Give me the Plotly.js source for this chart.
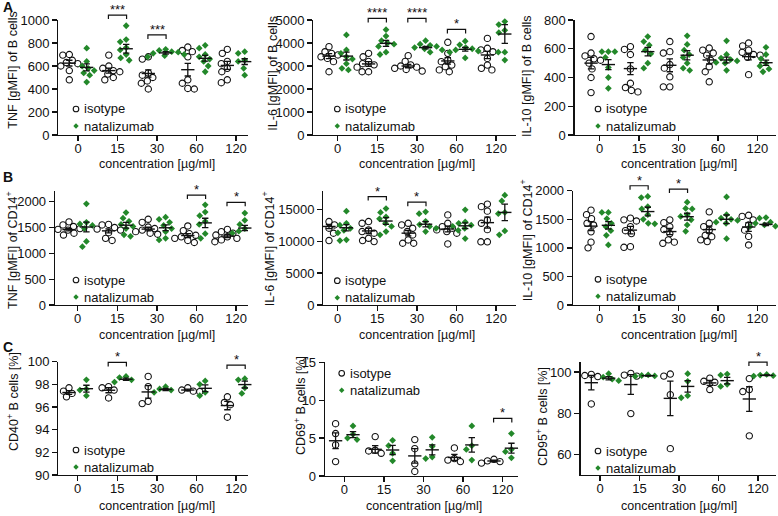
<!DOCTYPE html>
<html><head><meta charset="utf-8">
<script src="https://cdn.plot.ly/plotly-3.0.1.min.js"></script>
<style>html,body{margin:0;padding:0;background:#fff}#chart{width:778px;height:516px}</style>
</head><body><div id="chart"></div>
<script>
const categories = ['0','15','30','60','120'];
const seriesNames = ['isotype','natalizumab'];

// A: TNF [gMFI] of B cells
const tnfB_iso = [[700,695,650,630,620,600,560,480],[695,600,580,560,550,530,500,480],[680,660,540,520,500,470,450,400],[765,735,725,680,480,450,405,400],[745,710,640,620,580,550,480,455]];
const tnfB_isoMean = [625,560,535,568,605];
const tnfB_isoSem = [25,22,32,55,35];
const tnfB_nat = [[755,640,600,580,560,540,520,460],[950,830,810,760,740,700,670,650],[745,735,725,720,710,700,690,680],[780,755,700,680,660,640,600,550],[725,710,695,650,640,610,580,520]];
const tnfB_natMean = [588,750,714,667,638];
const tnfB_natSem = [30,38,10,25,25];
const tnfB_sig = ['','***','***','',''];

// A: IL-6 [gMFI] of B cells
const il6B_iso = [[3840,3620,3550,3480,3400,3330,3190,2750],[3550,3400,3200,3100,3050,2950,2750,2750],[3450,3200,3050,3000,2950,2900,2850,2780],[4030,3550,3260,3190,3040,2970,2830,2750],[4200,3770,3700,3620,3330,3040,2900,2830]];
const il6B_isoMean = [3430,3090,3000,3220,3480];
const il6B_isoSem = [110,100,75,140,160];
const il6B_nat = [[4350,3700,3550,3400,3300,3100,2900,2830],[4580,4300,4100,4000,3950,3850,3600,3500],[4100,3950,3900,3850,3800,3750,3700,3600],[4080,3920,3800,3750,3700,3650,3600,3350],[4930,4800,4550,4450,3600,3600,3260]];
const il6B_natMean = [3430,3985,3800,3725,4390];
const il6B_natSem = [170,130,55,80,410];
const il6B_sig = ['','****','****','*',''];

// A: IL-10 [gMFI] of B cells
const il10B_iso = [[685,570,550,530,520,500,460,400,295],[615,595,560,460,360,330,310,300],[650,580,570,490,465,405,335,335],[605,590,570,555,520,475,440,370],[640,620,590,575,560,555,540,420]];
const il10B_isoMean = [500,462,485,522,545];
const il10B_isoSem = [40,42,45,28,22];
const il10B_nat = [[580,580,580,540,470,400,325],[685,650,625,590,565,500,465],[690,630,590,560,540,500,465,450],[655,560,535,525,515,505,500,450],[610,560,530,500,480,460,440]];
const il10B_natMean = [490,580,555,522,503];
const il10B_natSem = [35,30,32,20,18];
const il10B_sig = ['','','','',''];

// B: TNF [gMFI] of CD14+
const tnfM_iso = [[1610,1550,1520,1480,1465,1450,1390,1355],[1560,1550,1500,1470,1450,1400,1290,1250],[1660,1600,1510,1480,1450,1420,1390,1370],[1530,1440,1380,1350,1320,1290,1250,1210],[1465,1420,1390,1355,1320,1290,1260,1225]];
const tnfM_isoMean = [1460,1435,1470,1345,1335];
const tnfM_isoSem = [25,38,35,38,28];
const tnfM_nat = [[1960,1600,1570,1540,1480,1230,1130],[1790,1680,1620,1560,1520,1480,1360,1330],[1700,1660,1600,1540,1480,1420,1290,1260],[1940,1800,1730,1620,1560,1380,1290],[1780,1640,1560,1480,1430,1400,1400,1390]];
const tnfM_natMean = [1510,1545,1495,1590,1490];
const tnfM_natSem = [95,55,55,90,50];
const tnfM_sig = ['','','','*','*'];

// B: IL-6 [gMFI] of CD14+
const il6M_iso = [[13070,12800,12540,12280,12020,11760,11240,10090],[13070,12800,11760,11500,11240,10450,10090,9930],[12800,12540,12020,11500,10970,10190,9670,9670],[14110,12800,12280,12020,11760,11500,11240,9560],[15800,15400,14700,13300,12800,11800,9900,9900]];
const il6M_isoMean = [12300,11600,11250,11900,12900];
const il6M_isoSem = [330,420,420,450,850];
const il6M_nat = [[14700,12800,12500,12000,11700,11300,10200,10100],[15100,14500,13800,13500,12800,12300,11500,11000],[14600,14300,13100,12600,12300,12000,11500],[14900,13000,12800,12500,12300,12000,11700,10400],[17200,16300,14500,14300,11600,11000]];
const il6M_natMean = [12100,13150,12650,12400,14500];
const il6M_natSem = [500,520,420,450,1300];
const il6M_sig = ['','*','*','',''];

// B: IL-10 [gMFI] of CD14+
const il10M_iso = [[1660,1580,1510,1430,1400,1280,1100,1000],[1520,1490,1470,1370,1300,1250,1020,1010],[1490,1440,1370,1320,1250,1140,1100,1080],[1630,1430,1370,1310,1220,1195,1140,1110],[1570,1550,1490,1400,1310,1200,1050]];
const il10M_isoMean = [1380,1310,1285,1320,1365];
const il10M_isoSem = [80,65,55,60,75];
const il10M_nat = [[1620,1620,1510,1430,1370,1300,1220,1050],[1900,1880,1720,1680,1580,1500,1430,1420],[1800,1690,1680,1580,1550,1490,1400,1290],[1890,1580,1520,1500,1480,1450,1430,1160],[1530,1520,1450,1430,1400,1380,1370,1360]];
const il10M_natMean = [1395,1635,1545,1500,1410];
const il10M_natSem = [65,75,60,75,22];
const il10M_sig = ['','*','*','',''];

// C: CD40+ B cells [%]
const cd40_iso = [[97.7,97.4,97.2,96.9],[97.8,97.7,97.5,96.8],[98.7,97.8,96.5,96.3],[97.7,97.5,97.4,97.35],[96.9,96.4,96.2,95.1]];
const cd40_isoMean = [97.28,97.48,97.33,97.5,96.13];
const cd40_isoSem = [0.17,0.22,0.55,0.08,0.37];
const cd40_nat = [[98.4,97.6,97.5,97.0],[98.7,98.6,98.4,98.2],[97.8,97.6,97.5,97.3],[98.3,98.0,97.3,97.0],[98.5,98.4,97.7,97.2]];
const cd40_natMean = [97.62,98.45,97.55,97.65,97.98];
const cd40_natSem = [0.3,0.1,0.1,0.3,0.3];
const cd40_sig = ['','*','','','*'];

// C: CD69+ B cells [%]
const cd69_iso = [[6.9,5.6,4.1,1.9],[5.2,3.4,3.3,3.0],[4.8,3.6,1.6,0.6],[3.7,2.3,2.1,1.9],[2.2,2.0,1.9,1.7]];
const cd69_isoMean = [4.65,3.52,2.65,2.45,1.98];
const cd69_isoSem = [1.05,0.5,0.95,0.4,0.1];
const cd69_nat = [[6.6,5.5,5.0,4.8],[4.7,4.0,3.0,2.0],[5.1,3.9,2.5,2.3],[6.6,4.0,3.5,2.1],[5.6,3.5,3.2,2.4]];
const cd69_natMean = [5.45,3.43,3.45,4.1,3.67];
const cd69_natSem = [0.4,0.6,0.65,0.95,0.65];
const cd69_sig = ['','','','','*'];

// C: CD95+ B cells [%]
const cd95_iso = [[98.8,98.3,97.8,84.5],[99.3,98.5,98.0,79.8],[99.0,98.0,89.0,62.8],[97.0,95.5,95.0,91.5],[96.8,91.5,90.5,69.0]];
const cd95_isoMean = [94.8,93.9,87.2,94.7,86.9];
const cd95_isoSem = [3.5,4.8,8.4,1.2,6.0];
const cd95_nat = [[99.2,97.5,96.5,95.8],[98.6,98.3,98.1,97.9],[99.2,95.5,88.5,87.5],[99.0,98.5,94.0,93.0],[98.8,98.5,98.2,98.0]];
const cd95_natMean = [97.0,98.2,93.0,95.8,98.4];
const cd95_natSem = [0.8,0.2,2.8,1.6,0.2];
const cd95_sig = ['','','','','*'];

// ---------- layout geometry (pixels) ----------
const W = 778, H = 516;
const FONT = 'Liberation Sans, Arial, sans-serif';
const GREEN = '#23882a';
const INK = '#111';
const panels = [
  {title:'TNF [gMFI] of B cells', iso:tnfB_iso, isoM:tnfB_isoMean, isoS:tnfB_isoSem, nat:tnfB_nat, natM:tnfB_natMean, natS:tnfB_natSem, sig:tnfB_sig, sigY:[0,1043,870,0,0],
   xL:58.3, t0:78, s:39.5, xR:248, yT:20, vT:1000, yB:135, vB:0, tv:[0,200,400,600,800,1000], tx:12.7, ty:70, lg:[76,109], xt:163.5},
  {title:'IL-6 [gMFI] of B cells', iso:il6B_iso, isoM:il6B_isoMean, isoS:il6B_isoSem, nat:il6B_nat, natM:il6B_natMean, natS:il6B_natSem, sig:il6B_sig, sigY:[0,5070,5070,4590,0],
   xL:313.3, t0:337.7, s:39.6, xR:516, yT:20, vT:5000, yB:135, vB:0, tv:[0,1000,2000,3000,4000,5000], tx:272.7, ty:73, lg:[337.3,109], xt:163.5},
  {title:'IL-10 [gMFI] of B cells', iso:il10B_iso, isoM:il10B_isoMean, isoS:il10B_isoSem, nat:il10B_nat, natM:il10B_natMean, natS:il10B_natSem, sig:il10B_sig, sigY:[0,0,0,0,0],
   xL:574.7, t0:599.7, s:39.4, xR:776, yT:20, vT:800, yB:135, vB:0, tv:[0,200,400,600,800], tx:527, ty:76, lg:[598,109], xt:163.5},
  {title:'TNF [gMFI] of CD14<sup>+</sup>', iso:tnfM_iso, isoM:tnfM_isoMean, isoS:tnfM_isoSem, nat:tnfM_nat, natM:tnfM_natMean, natS:tnfM_natSem, sig:tnfM_sig, sigY:[0,0,0,2129,1987],
   xL:55, t0:77.7, s:39.6, xR:248, yT:190.7, vT:2213, yB:305, vB:0, tv:[0,500,1000,1500,2000], tx:12, ty:250, lg:[76,280], xt:334.5},
  {title:'IL-6 [gMFI] of CD14<sup>+</sup>', iso:il6M_iso, isoM:il6M_isoMean, isoS:il6M_isoSem, nat:il6M_nat, natM:il6M_natMean, natS:il6M_natSem, sig:il6M_sig, sigY:[0,16985,16096,0,0],
   xL:323.3, t0:337.7, s:39.6, xR:516, yT:190.7, vT:17900, yB:305, vB:0, tv:[0,5000,10000,15000], tx:268.3, ty:249, lg:[337.3,280.7], xt:334.5},
  {title:'IL-10 [gMFI] of CD14<sup>+</sup>', iso:il10M_iso, isoM:il10M_isoMean, isoS:il10M_isoSem, nat:il10M_nat, natM:il10M_natMean, natS:il10M_natSem, sig:il10M_sig, sigY:[0,2087,2029,0,0],
   xL:573, t0:599.7, s:39.4, xR:776, yT:190.7, vT:2000, yB:305, vB:0, tv:[0,500,1000,1500,2000], tx:526.3, ty:240, lg:[598,279.3], xt:334.5},
  {title:'CD40<sup>+</sup> B cells [%]', iso:cd40_iso, isoM:cd40_isoMean, isoS:cd40_isoSem, nat:cd40_nat, natM:cd40_natMean, natS:cd40_natSem, sig:cd40_sig, sigY:[0,99.94,0,0,99.7],
   xL:58.3, t0:77.7, s:39.6, xR:248, yT:361.7, vT:100, yB:475, vB:90, tv:[90,92,94,96,98,100], tx:13, ty:402, lg:[76,450], xt:506},
  {title:'CD69<sup>+</sup> B cells [%]', iso:cd69_iso, isoM:cd69_isoMean, isoS:cd69_isoSem, nat:cd69_nat, natM:cd69_natMean, natS:cd69_natSem, sig:cd69_sig, sigY:[0,0,0,0,7.6],
   xL:325, t0:344.3, s:39.6, xR:518, yT:362.3, vT:15, yB:476, vB:0, tv:[0,5,10,15], tx:300, ty:406, lg:[341.7,373.3], xt:506},
  {title:'CD95<sup>+</sup> B cells [%]', iso:cd95_iso, isoM:cd95_isoMean, isoS:cd95_isoSem, nat:cd95_nat, natM:cd95_natMean, natS:cd95_natSem, sig:cd95_sig, sigY:[0,0,0,0,104.8],
   xL:580.5, t0:600, s:39.5, xR:776, yT:361.7, vT:105, yB:475, vB:50, tv:[60,80,100], tx:542, ty:417, lg:[598,451], xt:506}
];

const GOFF = 0.22;       // group offset from category tick (x units)
const DIAM = 6.4;        // min spacing between point centres (px)

function swarm(vals, ppu) {
  const order = vals.map((v, i) => i).sort((a, b) => vals[b] - vals[a]);
  const placed = [], off = new Array(vals.length).fill(0);
  order.forEach(i => {
    const y = vals[i] * ppu;
    for (let j = 0; j < 200; j++) {
      const m = Math.ceil(j / 2) * 0.5;
      const dx = j === 0 ? 0 : (j % 2 ? -m : m);
      if (placed.every(q => (dx - q.x) ** 2 + (y - q.y) ** 2 >= DIAM * DIAM)) {
        placed.push({x: dx, y}); off[i] = dx; break;
      }
    }
  });
  return off;
}

const px2x = p => p / W;
const px2y = p => 1 - p / H;
const font = (size, color) => ({family: FONT, size, color: color || INK});

const traces = [];
const layout = {
  width: W, height: H, margin: {l: 0, r: 0, t: 0, b: 0}, autosize: false,
  paper_bgcolor: '#fff', plot_bgcolor: 'rgba(0,0,0,0)', showlegend: false,
  font: font(13), shapes: [], annotations: []
};

panels.forEach((p, k) => {
  const n = k + 1, sfx = n === 1 ? '' : String(n);
  const xa = 'x' + sfx, ya = 'y' + sfx;
  const ppu = (p.yB - p.yT) / (p.vT - p.vB);
  const xPix = v => p.t0 + v * p.s;
  const yPix = v => p.yB - (v - p.vB) * ppu;

  layout['xaxis' + sfx] = {
    domain: [px2x(p.xL), px2x(p.xR)], range: [(p.xL - p.t0) / p.s, (p.xR - p.t0) / p.s],
    anchor: ya, tickvals: categories.map((c, i) => i), ticktext: categories,
    showline: true, linecolor: INK, linewidth: 1.3, ticks: 'outside', ticklen: 5, tickwidth: 1.3, tickcolor: INK,
    ticklabelstandoff: -4,
    showgrid: false, zeroline: false, tickfont: font(13), fixedrange: true
  };
  layout['yaxis' + sfx] = {
    domain: [px2y(p.yB), px2y(p.yT)], range: [p.vB, p.vT], anchor: xa,
    tickvals: p.tv, ticktext: p.tv.map(String), showline: true, linecolor: INK, linewidth: 1.3, ticks: 'outside', ticklen: 5, tickwidth: 1.3, tickcolor: INK,
    showgrid: false, zeroline: false, tickfont: font(13), fixedrange: true
  };

  const groups = [
    {vals: p.iso, mean: p.isoM, sem: p.isoS, off: -GOFF, marker: {symbol: 'circle-open', size: 6.3, color: INK, line: {width: 1.1}}},
    {vals: p.nat, mean: p.natM, sem: p.natS, off: GOFF, marker: {symbol: 'diamond', size: 5.2, color: GREEN, line: {width: 0}}}
  ];
  groups.forEach((g, gi) => {
    const xs = [], ys = [];
    g.vals.forEach((arr, ci) => {
      const offs = swarm(arr, ppu);
      arr.forEach((v, vi) => { xs.push(ci + g.off + offs[vi] / p.s); ys.push(v); });
    });
    traces.push({type: 'scatter', mode: 'markers', x: xs, y: ys, xaxis: xa, yaxis: ya,
      name: seriesNames[gi], marker: g.marker, hoverinfo: 'skip', cliponaxis: false});
  });
  groups.forEach((g, gi) => {
    traces.push({type: 'scatter', mode: 'markers', xaxis: xa, yaxis: ya, name: seriesNames[gi] + ' mean',
      x: g.mean.map((m, ci) => ci + g.off), y: g.mean,
      marker: {symbol: 'line-ew', size: 9.5, color: INK, line: {width: 1.4, color: INK}},
      error_y: {type: 'data', array: g.sem, visible: true, width: 3.2, thickness: 1.3, color: INK},
      hoverinfo: 'skip', cliponaxis: false});
  });

  // significance brackets
  p.sig.forEach((lab, ci) => {
    if (!lab) return;
    const x1 = px2x(xPix(ci - 0.23)), x2 = px2x(xPix(ci + 0.23));
    const yl = yPix(p.sigY[ci]);
    const y = px2y(yl), y0 = px2y(yl + 4);
    layout.shapes.push({type: 'path', xref: 'paper', yref: 'paper',
      path: `M${x1},${y0}L${x1},${y}L${x2},${y}L${x2},${y0}`, line: {color: INK, width: 1.2}});
    layout.annotations.push({xref: 'paper', yref: 'paper', x: px2x(xPix(ci)), y: y, xanchor: 'center', yanchor: 'bottom',
      yshift: -4, text: lab, showarrow: false, font: font(13)});
  });

  // legend
  const [lx, ly] = p.lg;
  layout.shapes.push({type: 'circle', xref: 'paper', yref: 'paper', xsizemode: 'pixel', ysizemode: 'pixel',
    xanchor: px2x(lx), yanchor: px2y(ly), x0: -2.8, x1: 2.8, y0: -2.8, y1: 2.8, line: {color: INK, width: 1.1}, fillcolor: 'rgba(0,0,0,0)'});
  layout.shapes.push({type: 'path', xref: 'paper', yref: 'paper', xsizemode: 'pixel', ysizemode: 'pixel',
    xanchor: px2x(lx), yanchor: px2y(ly + 17), path: 'M0,-2.7L2.7,0L0,2.7L-2.7,0Z', line: {width: 0}, fillcolor: GREEN});
  layout.annotations.push({xref: 'paper', yref: 'paper', x: px2x(lx + 6), y: px2y(ly), xanchor: 'left', yanchor: 'middle',
    text: seriesNames[0], showarrow: false, font: font(13)});
  layout.annotations.push({xref: 'paper', yref: 'paper', x: px2x(lx + 6), y: px2y(ly + 17), xanchor: 'left', yanchor: 'middle',
    text: seriesNames[1], showarrow: false, font: font(13)});

  // axis titles
  layout.annotations.push({xref: 'paper', yref: 'paper', x: px2x(p.t0 + 2 * p.s), y: px2y(p.xt), xanchor: 'center', yanchor: 'middle',
    text: 'concentration [µg/ml]', showarrow: false, font: font(12.5)});
  layout.annotations.push({xref: 'paper', yref: 'paper', x: px2x(p.tx), y: px2y(p.ty), xanchor: 'center', yanchor: 'middle',
    textangle: -90, text: p.title, showarrow: false, font: font(12.5)});
});

[['A', 7], ['B', 177], ['C', 347]].forEach(([t, y]) => {
  layout.annotations.push({xref: 'paper', yref: 'paper', x: px2x(1), y: px2y(y), xanchor: 'left', yanchor: 'middle',
    text: '<b>' + t + '</b>', showarrow: false, font: font(14)});
});

Plotly.newPlot('chart', traces, layout, {staticPlot: true, displayModeBar: false});
</script></body></html>
